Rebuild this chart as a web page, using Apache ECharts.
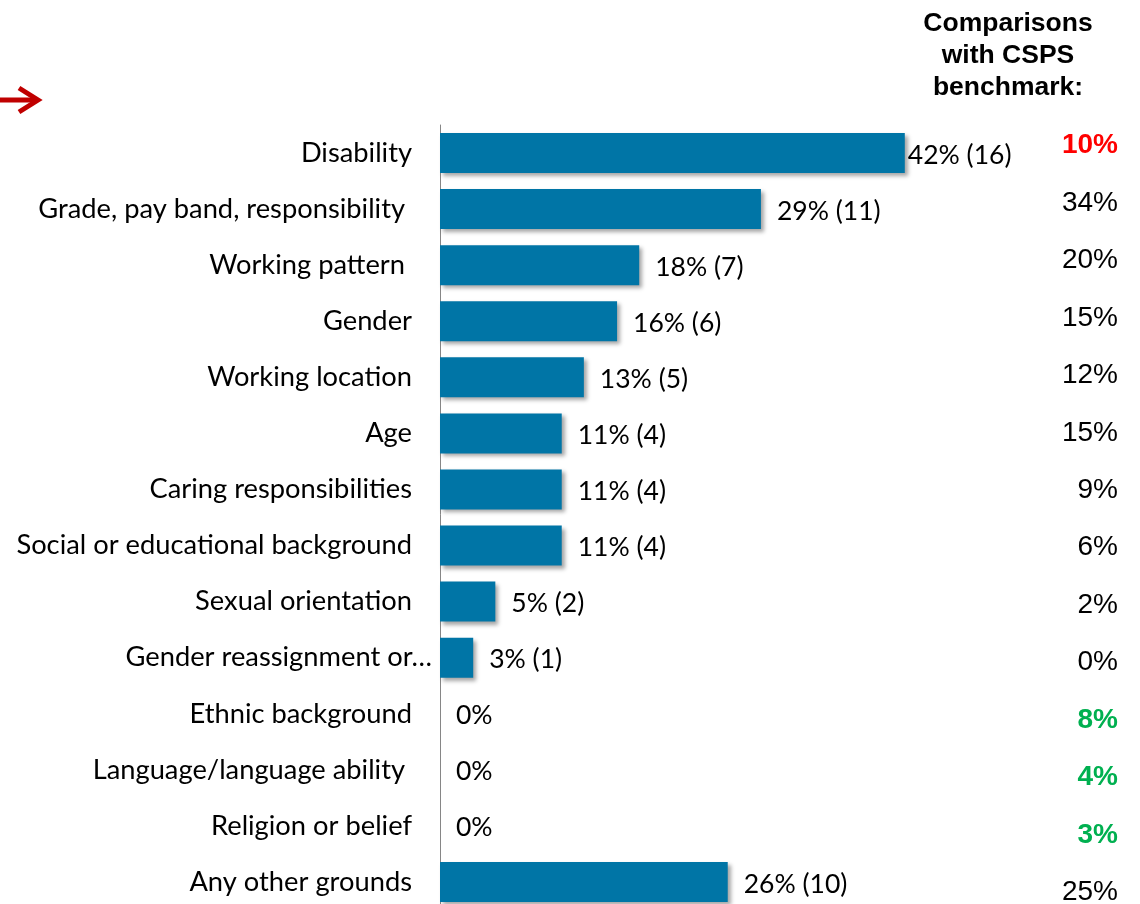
<!DOCTYPE html>
<html>
<head>
<meta charset="utf-8">
<script src="https://cdn.jsdelivr.net/npm/echarts@6/dist/echarts.min.js"></script>
<style>html,body{margin:0;padding:0;background:#fff}#c{width:1140px;height:904px}</style>
</head>
<body>
<div id="c"></div>
<script>
const categories = [
  'Disability',
  'Grade, pay band, responsibility ',
  'Working pattern ',
  'Gender',
  'Working location',
  'Age',
  'Caring responsibilities',
  'Social or educational background',
  'Sexual orientation',
  'Gender reassignment or…',
  'Ethnic background',
  'Language/language ability ',
  'Religion or belief',
  'Any other grounds'
];
const percents = [42, 29, 18, 16, 13, 11, 11, 11, 5, 3, 0, 0, 0, 26];
const counts = [16, 11, 7, 6, 5, 4, 4, 4, 2, 1, 0, 0, 0, 10];
const benchmark = ['10%', '34%', '20%', '15%', '12%', '15%', '9%', '6%', '2%', '0%', '8%', '4%', '3%', '25%'];
// comparison flag: 'worse' (red), 'better' (green), '' (no difference)
const benchFlag = ['worse', '', '', '', '', '', '', '', '', '', 'better', 'better', 'better', ''];
const headerText = 'Comparisons\nwith CSPS\nbenchmark:';

const flagColor = { worse: '#FF0000', better: '#00B050', '': '#000000' };

const catData = categories.map((c) => {
  if (c.endsWith('…')) {
    return { value: c, textStyle: { padding: [4, -20, 0, 0] } };
  }
  return c;
});
const benchData = benchmark.map((b, i) => ({
  value: b,
  textStyle: {
    color: flagColor[benchFlag[i]],
    fontWeight: benchFlag[i] ? 'bold' : 'normal'
  }
}));
const barData = percents.map((v, i) => {
  const d = { value: v };
  if (i === 0) d.label = { distance: 3 };
  return d;
});

const chart = echarts.init(document.getElementById('c'), null, { renderer: 'canvas' });
chart.setOption({
  animation: false,
  backgroundColor: '#ffffff',
  grid: [
    { left: 440, top: 125, width: 664, height: 785, outerBoundsMode: 'none', containLabel: false },
    { left: 1132, top: 117, width: 5, height: 804, outerBoundsMode: 'none', containLabel: false }
  ],
  xAxis: [
    { gridIndex: 0, type: 'value', min: 0, max: 60, show: false },
    { gridIndex: 1, type: 'value', min: 0, max: 1, show: false }
  ],
  yAxis: [
    {
      gridIndex: 0,
      type: 'category',
      inverse: true,
      data: catData,
      axisLine: { show: true, lineStyle: { color: '#868686', width: 1 } },
      axisTick: { show: false },
      axisLabel: {
        margin: 28,
        padding: [4, 0, 0, 0],
        fontFamily: 'Lato',
        fontSize: 27.3,
        color: '#000000',
        interval: 0
      }
    },
    {
      gridIndex: 1,
      type: 'category',
      position: 'left',
      inverse: true,
      data: benchData,
      axisLine: { show: false },
      axisTick: { show: false },
      axisLabel: {
        margin: 14,
        fontFamily: 'Liberation Sans',
        fontSize: 28,
        color: '#000000',
        interval: 0
      }
    }
  ],
  series: [
    {
      type: 'bar',
      xAxisIndex: 0,
      yAxisIndex: 0,
      data: barData,
      barWidth: 40,
      itemStyle: {
        color: '#0075A6',
        shadowColor: 'rgba(0,0,0,0.35)',
        shadowBlur: 4,
        shadowOffsetX: 3,
        shadowOffsetY: 3
      },
      label: {
        show: true,
        position: 'right',
        distance: 16,
        offset: [0, 2],
        fontFamily: 'Lato',
        fontSize: 26.5,
        color: '#000000',
        formatter: p => p.value === 0 ? '0%' : p.value + '% (' + counts[p.dataIndex] + ')'
      }
    }
  ],
  graphic: [
    {
      type: 'text',
      x: 1008,
      y: 8,
      style: {
        text: headerText,
        textAlign: 'center',
        textVerticalAlign: 'top',
        fontFamily: 'Liberation Sans',
        fontWeight: 'bold',
        fontSize: 26.5,
        lineHeight: 32,
        fill: '#000000'
      }
    },
    {
      type: 'line',
      shape: { x1: 0, y1: 100, x2: 36, y2: 100 },
      style: { stroke: '#C00000', lineWidth: 5 }
    },
    {
      type: 'polyline',
      shape: { points: [[19, 88], [38, 100], [19, 112]] },
      style: { stroke: '#C00000', lineWidth: 5, fill: null, lineJoin: 'miter' }
    }
  ]
});
</script>
</body>
</html>
